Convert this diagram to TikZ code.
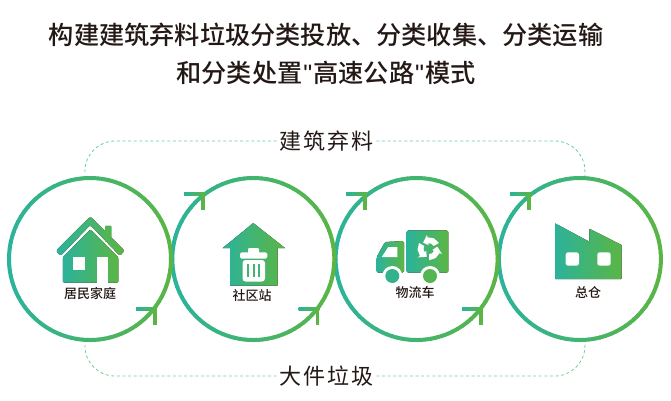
\documentclass[tikz,border=0pt]{standalone}
\usepackage{fontspec}
\setmainfont{Noto Sans CJK SC Medium}
\newfontfamily\spacedfont[LetterSpace=8]{Noto Sans CJK SC}
\newfontfamily\quotefont{Liberation Sans}
\usepackage{tikz}
\usetikzlibrary{positioning, arrows, shapes}
\definecolor{iconteal}{HTML}{2BB39B}
\definecolor{icongreen}{HTML}{5BB544}
\definecolor{darktext}{HTML}{231815}
\definecolor{dashteal}{HTML}{62CDB2}
\definecolor{dashgreen}{HTML}{72D093}
\tikzstyle{stage} = [circle, minimum size=166pt, inner sep=0pt, outer sep=0pt]
\tikzstyle{gradfill} = [left color=iconteal, right color=icongreen, draw=none]
\tikzstyle{hole} = [fill=white, draw=none]
\tikzstyle{caption} = [font=\fontsize{13}{13}\selectfont, text=darktext, inner sep=0pt]
\tikzstyle{route} = [font=\spacedfont\fontsize{22}{22}\selectfont, text=darktext, inner sep=0pt]
\tikzstyle{dashline} = [dash pattern=on 3pt off 2.6pt, line width=0.8pt, rounded corners=30pt]
\newcommand{\ring}[1]{
  \foreach \a in {0,4,...,356} {
    \pgfmathsetmacro{\mixval}{50+50*cos(\a+2)}
    \draw [icongreen!\mixval!iconteal, line width=4pt] ([shift={(\a:81pt)}]#1.center) arc [start angle=\a, end angle=\a+4.6, radius=81pt];
  }
}
\newcommand{\chevron}[2]{
  \fill [gradfill] (#1-19,#2-1.9) rectangle (#1+1.9,#2+1.9);
  \fill [icongreen] (#1-1.9,#2-1.9) rectangle (#1+1.9,#2+15.5);
}
\begin{document}
\begin{tikzpicture}[x=1pt, y=-1pt, node distance=163.3pt]
        \useasboundingbox (0,0) rectangle (671,400);
        \node (title) [font=\fontsize{25.2}{38}\selectfont, text=darktext, align=center, inner sep=0pt] at (326,54) {构建建筑弃料垃圾分类投放、分类收集、分类运输\\和分类处置\hspace{1pt}{\quotefont"}\hspace{1pt}高速公路\hspace{1pt}{\quotefont"}\hspace{1pt}模式};

        \node (home) [stage] at (90,259) {};
        \node (station) [stage, right of=home] {};
        \node (transit) [stage, right of=station] {};
        \node (depot) [stage, right of=transit] {};
        \node (material) [route] at (326.5,141) {建筑弃料};
        \node (bulky) [route] at (326.5,376) {大件垃圾};

        \draw [dashline, color=dashteal] ([xshift=-3pt]material.west) -| ([xshift=-5pt, yshift=4pt]home.north);
        \draw [dashline, color=dashteal] ([xshift=3pt]material.east) -| ([xshift=5pt]depot.north);
        \draw [dashline, color=dashgreen] ([xshift=-3pt]bulky.west) -| ([xshift=-5pt, yshift=-3pt]home.south);
        \draw [dashline, color=dashgreen] ([xshift=3pt]bulky.east) -| ([xshift=5pt]depot.south);

        \ring{depot}
        \ring{transit}
        \ring{station}
        \ring{home}

        \chevron{155}{309}
        \chevron{317.5}{309}
        \chevron{481}{309}
        \chevron{203}{194}
        \chevron{365}{194}
        \chevron{529}{194}

        % house
        \fill [gradfill, rounded corners=1.5pt] (90.3,216.5) -- (124.5,250.5) -- (120,256) -- (90.3,225) -- (60.5,256) -- (56,250.5) -- cycle;
        \fill [icongreen!80!iconteal, rounded corners=1pt] (105,225.5) rectangle (111.5,242);
        \fill [gradfill, rounded corners=1pt] (90.3,229.5) -- (118.3,257.3) -- (118.3,282.5) -- (62.8,282.5) -- (62.8,257.3) -- cycle;
        \fill [hole] (72.7,257.3) rectangle (85,270);
        \fill [hole] (96.7,257.3) rectangle (108.3,282.5);
        \node (homelabel) [caption] at (90,294) {居民家庭};

        % bin station
        \fill [gradfill] (253.3,223) -- (285,248) -- (277.7,248) -- (277.7,285.7) -- (230,285.7) -- (230,248) -- (222.7,248) -- cycle;
        \fill [hole, rounded corners=1pt] (248,248) rectangle (259,254);
        \fill [hole, rounded corners=1.5pt] (240,252.3) rectangle (267.3,258.6);
        \fill [hole, rounded corners=3pt] (242.5,260) rectangle (265,281.5);
        \foreach \x in {248.3,253.7,259.2} {
          \fill [icongreen!50!iconteal] (\x-1,264) rectangle (\x+1,277);
        }
        \node (stationlabel) [caption] at (252,296) {社区站};

        % truck
        \fill [gradfill, rounded corners=1.5pt] (406.7,230.3) rectangle (448.3,272.7);
        \fill [gradfill, rounded corners=1.5pt] (376.7,272.7) -- (376.7,257) -- (385,242) -- (404,241) -- (404,272.7) -- cycle;
        \fill [hole] (381.7,257) -- (388.3,247) -- (397.3,247) -- (397.3,257) -- cycle;
        \fill [hole] (392.3,276) circle (10);
        \fill [hole] (430,276) circle (10);
        \fill [iconteal!85!icongreen] (392.3,276) circle (7);
        \fill [icongreen!85!iconteal] (430,276) circle (7);
        \foreach \r in {30,150,270} {
          \fill [hole, shift={(429,248.7)}] (\r:5.5pt) -- (\r:11.5pt) -- (\r+35:11.5pt) -- (\r+68:11.5pt) -- (\r+68:14pt) -- (\r+104:8.5pt) -- (\r+68:3.5pt) -- (\r+68:5.5pt) -- (\r+35:5.5pt) -- cycle;
        }
        \node (transitlabel) [caption] at (415,293) {物流车};

        % factory
        \fill [gradfill, rounded corners=0.5pt] (555,223.3) -- (589.3,241.7) -- (589.3,228.7) -- (621.7,245) -- (621.7,279) -- (555,279) -- cycle;
        \fill [hole, rounded corners=2.5pt] (565.7,252.3) rectangle (579,265.7);
        \fill [hole, rounded corners=2.5pt] (597.3,252.3) rectangle (610.7,265.7);
        \node (depotlabel) [caption] at (588,292) {总仓};
\end{tikzpicture}
\end{document}
